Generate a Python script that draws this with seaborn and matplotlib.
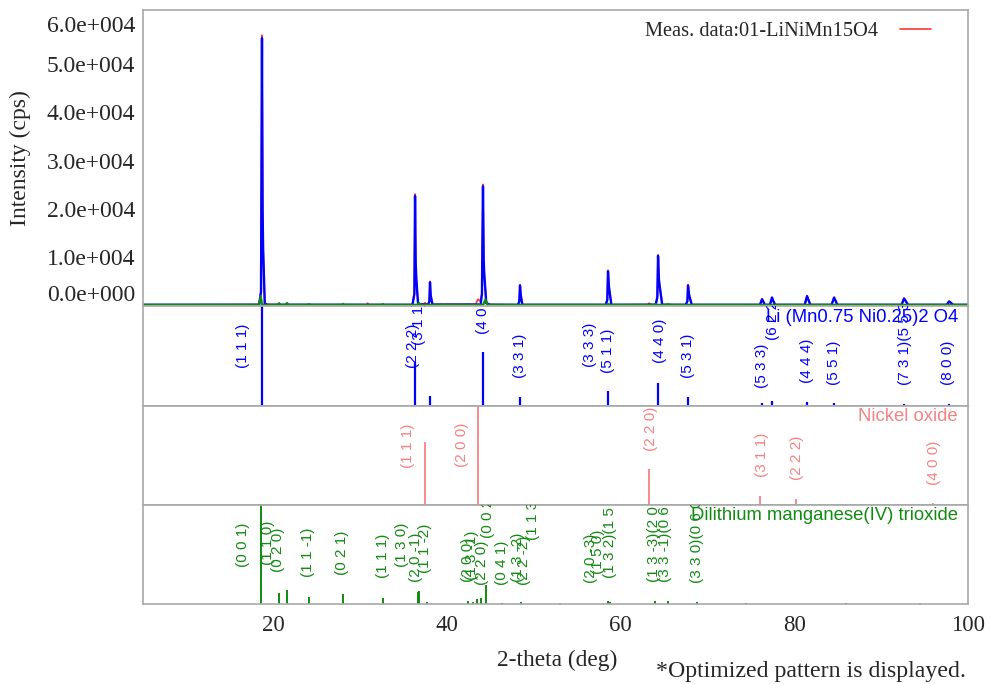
import matplotlib
matplotlib.use('Agg')
import matplotlib.pyplot as plt
import seaborn as sns

meas_tt = [5.0,
           18.40, 18.62, 18.73, 18.80, 18.86, 19.05, 19.40,
           20.55, 20.70, 20.85, 21.45, 21.60, 21.75,
           30.80, 30.90, 31.00,
           36.05, 36.27, 36.35, 36.42, 36.50, 36.70,
           37.30, 37.50, 37.70,
           37.85, 38.00, 38.07, 38.15, 38.35,
           43.30, 43.60, 43.85, 44.05, 44.17, 44.25, 44.32, 44.55, 45.00,
           48.20, 48.35, 48.43, 48.52, 48.70,
           58.30, 58.48, 58.56, 58.66, 58.72, 58.95,
           63.10, 63.30, 63.50,
           64.05, 64.24, 64.32, 64.42, 64.50, 64.80,
           67.50, 67.70, 67.77, 67.88, 67.96, 68.20,
           76.05, 76.29, 76.45, 76.60,
           77.20, 77.44, 77.60, 77.80,
           81.20, 81.47, 81.65, 81.85,
           84.30, 84.58, 84.78, 84.95,
           92.35, 92.64, 92.88, 93.10,
           97.55, 97.82, 98.10, 98.30,
           100.0]
meas_cps = [150,
            170, 3000, 56000, 20000, 12000, 400, 170,
            150, 450, 150, 150, 420, 150,
            150, 500, 150,
            150, 2500, 23100, 9000, 5500, 300,
            200, 600, 200,
            170, 900, 5000, 2200, 200,
            250, 1300, 900, 2500, 25100, 9500, 6500, 500, 170,
            150, 900, 4300, 2200, 150,
            150, 1200, 7300, 4200, 3200, 150,
            170, 500, 170,
            170, 1800, 10500, 5500, 4200, 170,
            150, 900, 4300, 2400, 1800, 150,
            150, 1400, 800, 150,
            150, 1700, 900, 150,
            150, 2000, 1100, 150,
            150, 1700, 900, 150,
            150, 1500, 800, 150,
            150, 900, 450, 150,
            150]

# Calculated pattern (blue)
calc_tt = [5.0,
           18.40, 18.62, 18.73, 18.80, 18.86, 19.05, 19.40,
           36.05, 36.27, 36.35, 36.42, 36.50, 36.70,
           37.85, 38.00, 38.07, 38.15, 38.35,
           43.90, 44.05, 44.17, 44.25, 44.32, 44.55, 45.00,
           48.20, 48.35, 48.43, 48.52, 48.70,
           58.30, 58.48, 58.56, 58.66, 58.72, 58.95,
           64.05, 64.24, 64.32, 64.42, 64.50, 64.80,
           67.50, 67.70, 67.77, 67.88, 67.96, 68.20,
           76.05, 76.29, 76.45, 76.60,
           77.20, 77.44, 77.60, 77.80,
           81.20, 81.47, 81.65, 81.85,
           84.30, 84.58, 84.78, 84.95,
           92.35, 92.64, 92.88, 93.10,
           97.55, 97.82, 98.10, 98.30,
           100.0]
calc_cps = [150,
            170, 2900, 55400, 19800, 11800, 400, 170,
            150, 2400, 22700, 8900, 5400, 300,
            170, 880, 4800, 2150, 200,
            200, 2400, 24700, 9400, 6400, 480, 170,
            150, 880, 4150, 2150, 150,
            150, 1180, 7100, 4100, 3150, 150,
            170, 1750, 10300, 5400, 4100, 170,
            150, 880, 4150, 2350, 1750, 150,
            150, 1300, 780, 150,
            150, 1650, 880, 150,
            150, 1950, 1080, 150,
            150, 1650, 880, 150,
            150, 1450, 780, 150,
            150, 850, 440, 150,
            150]

# Li2MnO3 contribution (green)
li2_tt = [5.0, 18.40, 18.58, 18.75, 20.55, 20.69, 20.85, 21.45, 21.61, 21.80,
          24.00, 24.14, 24.30, 27.90, 28.06, 28.20, 32.50, 32.66, 32.80,
          36.60, 36.80, 37.00, 44.20, 44.45, 44.70, 58.40, 58.60, 58.80,
          63.80, 64.00, 64.20, 65.30, 65.50, 65.70, 100.0]
li2_cps = [150, 150, 1900, 150, 150, 480, 150, 150, 520, 150,
           150, 320, 150, 150, 350, 150, 150, 300, 150,
           150, 520, 150, 150, 1300, 150, 150, 350, 150,
           150, 300, 150, 150, 300, 150, 150]

y_ticks = [0, 10000, 20000, 30000, 40000, 50000, 60000]
y_tick_labels = ['0.0e+000', '1.0e+004', '2.0e+004', '3.0e+004',
                 '4.0e+004', '5.0e+004', '6.0e+004']
x_ticks = [20, 40, 60, 80, 100]

# Li (Mn0.75 Ni0.25)2 O4 sticks
spinel_tt = [18.73, 30.9, 36.35, 38.07, 44.17, 48.43, 58.56, 64.32, 67.77,
             76.29, 77.44, 81.47, 84.58, 92.64, 97.82]
spinel_rel = [1.0, 0.01, 0.44, 0.10, 0.54, 0.09, 0.15, 0.23, 0.09,
              0.03, 0.05, 0.04, 0.03, 0.02, 0.02]
spinel_hkl = ['(1 1 1)', '(2 2 2)', '(3 1 1)', '(4 0 0)', '(3 3 1)', '(3 3 3)',
              '(5 1 1)', '(4 4 0)', '(5 3 1)', '(5 3 3)', '(6 2 2)', '(4 4 4)',
              '(5 5 1)', '(7 3 1)(5 5 3)', '(8 0 0)']
spinel_hkl_tt = [16.55, 36.1, 36.85, 44.17, 48.43, 56.5, 58.56, 64.55, 67.77,
                 76.29, 77.55, 81.47, 84.58, 92.75, 97.7]
spinel_hkl_y = [0.38, 0.38, 0.61, 0.72, 0.28, 0.39, 0.33, 0.43, 0.28,
                0.18, 0.66, 0.23, 0.21, 0.21, 0.21]

# Nickel oxide sticks
nio_tt = [37.5, 43.6, 63.3, 76.1, 80.2, 96.0]
nio_rel = [0.64, 1.0, 0.36, 0.09, 0.06, 0.02]
nio_hkl = ['(1 1 1)', '(2 0 0)', '(2 2 0)', '(3 1 1)', '(2 2 2)', '(4 0 0)']
nio_hkl_tt = [35.55, 41.77, 63.5, 76.3, 80.33, 96.1]
nio_hkl_y = [0.37, 0.38, 0.55, 0.28, 0.25, 0.20]

# Dilithium manganese(IV) trioxide sticks
li2_stick_tt = [18.58, 20.69, 21.61, 24.14, 28.06, 32.66, 36.7, 36.85, 37.76,
                42.45, 43.0, 43.5, 43.9, 44.5, 46.36, 48.5, 58.56, 58.8,
                63.97, 65.5, 68.8, 53.0, 74.5, 86.0, 94.5]
li2_stick_rel = [1.0, 0.11, 0.14, 0.07, 0.10, 0.06, 0.12, 0.13, 0.02,
                 0.03, 0.02, 0.05, 0.06, 0.19, 0.01, 0.02, 0.03, 0.02,
                 0.03, 0.03, 0.02, 0.01, 0.01, 0.01, 0.01]
li2_hkl = ['(0 0 1)', '(1 1 0)', '(0 2 0)', '(1 1 -1)', '(0 2 1)', '(1 1 1)',
           '(1 3 0)', '(2 0 -1)', '(1 1 -2)', '(2 0 0)', '(1 3 -1)', '(2 2 0)',
           '(0 0 2)', '(0 4 1)', '(1 3 -2)', '(2 2 -2)', '(1 1 3)',
           '(2 0 -3)', '(1 5 0)', '(1 3 2)(1 5 1)', '(1 3 -3)(2 0 4)',
           '(3 3 -1)(0 6 2)', '(3 3 0)(0 6 0)']
li2_hkl_tt = [16.55, 19.43, 20.58, 24.03, 27.95, 32.66, 34.85, 36.5, 37.5,
              42.45, 42.9, 44.05, 44.75, 46.36, 48.2, 48.9, 49.9,
              56.6, 57.4, 58.8, 63.9, 65.1, 68.8]
li2_hkl_y = [0.37, 0.39, 0.32, 0.27, 0.29, 0.26, 0.37, 0.22, 0.31,
             0.22, 0.24, 0.19, 0.67, 0.19, 0.22, 0.19, 0.65,
             0.21, 0.30, 0.26, 0.22, 0.22, 0.21]

sns.set_style('white')
plt.rcParams['font.family'] = ['Liberation Serif', 'DejaVu Serif']

frame = '#a8a8a8'
blue = '#0000ff'
red = '#ff3333'
green = '#128a12'
salmon = '#f58282'

fig = plt.figure(figsize=(9.91, 6.84), dpi=100)
L, W = 0.144, 0.8328
ax_main = fig.add_axes([L, 0.5526, W, 0.4327])
ax_b = fig.add_axes([L, 0.4064, W, 0.1462], sharex=ax_main)
ax_r = fig.add_axes([L, 0.2617, W, 0.1447], sharex=ax_main)
ax_g = fig.add_axes([L, 0.1170, W, 0.1447], sharex=ax_main)

# main pattern
sns.lineplot(x=meas_tt, y=meas_cps, ax=ax_main, color=red, linewidth=1.2,
             estimator=None, sort=False)
sns.lineplot(x=calc_tt, y=calc_cps, ax=ax_main, color=blue, linewidth=1.7,
             estimator=None, sort=False)
sns.lineplot(x=li2_tt, y=li2_cps, ax=ax_main, color=green, linewidth=1.6,
             estimator=None, sort=False)
ax_main.set_xlim(5, 100)
ax_main.set_ylim(-100, 61200)
ax_main.set_yticks(y_ticks, y_tick_labels)
ax_main.tick_params(axis='y', length=0, pad=5.5, labelsize=17)
ax_main.tick_params(axis='x', length=0, labelbottom=False)
labels = ax_main.get_yticklabels()
labels[0].set_va('bottom')
labels[-1].set_va('top')
ax_main.set_xlabel('')
ax_main.set_ylabel('')

meas_line = ax_main.get_lines()[0]
ax_main.legend([meas_line], ['Meas. data:01-LiNiMn15O4'], loc='upper right',
               bbox_to_anchor=(0.9395, 0.968), bbox_transform=fig.transFigure,
               frameon=False, markerfirst=False, handlelength=1.5,
               borderpad=0, borderaxespad=0, handletextpad=1.1,
               prop={'family': 'Liberation Serif', 'size': 14.7})

phases = [
    (ax_b, spinel_tt, spinel_rel, spinel_hkl, spinel_hkl_tt, spinel_hkl_y,
     'Li (Mn0.75 Ni0.25)2 O4', blue, 1.6),
    (ax_r, nio_tt, nio_rel, nio_hkl, nio_hkl_tt, nio_hkl_y,
     'Nickel oxide', salmon, 1.3),
    (ax_g, li2_stick_tt, li2_stick_rel, li2_hkl, li2_hkl_tt, li2_hkl_y,
     'Dilithium manganese(IV) trioxide', green, 1.4),
]
for ax, tt, rel, hkl, htt, hy, name, c, lw in phases:
    ax.vlines(tt, 0, rel, color=c, linewidth=lw)
    ax.set_ylim(0, 1)
    for s, x, y in zip(hkl, htt, hy):
        ax.text(x, y, s, transform=ax.get_xaxis_transform(), rotation=90,
                ha='center', va='bottom', fontsize=11, color=c,
                family='Liberation Sans', clip_on=True)
    ax.text(0.988, 0.975, name, transform=ax.transAxes, ha='right', va='top',
            fontsize=13.3, color=c, family='Liberation Sans')
    ax.set_yticks([0.2, 0.4, 0.6, 0.8])
    ax.tick_params(axis='y', direction='in', length=4, color=frame,
                   labelleft=False)
    ax.tick_params(axis='x', length=0, labelbottom=False)

ax_g.set_xticks(x_ticks)
ax_g.tick_params(axis='x', direction='out', length=5, color=frame, pad=3,
                 labelbottom=True, labelsize=16.5)

for ax in [ax_main, ax_b, ax_r, ax_g]:
    for sp in ax.spines.values():
        sp.set_color(frame)
        sp.set_linewidth(1.2)

fig.text(20 / 991, 1 - 158 / 684, 'Intensity (cps)', rotation=90,
         ha='center', va='center', fontsize=17)
fig.text(557 / 991, 1 - 660 / 684, '2-theta (deg)', ha='center',
         va='center', fontsize=16.8)
fig.text(966 / 991, 1 - 672 / 684, '*Optimized pattern is displayed.',
         ha='right', va='center', fontsize=17.2)

fig.savefig('out.png', dpi=100)
